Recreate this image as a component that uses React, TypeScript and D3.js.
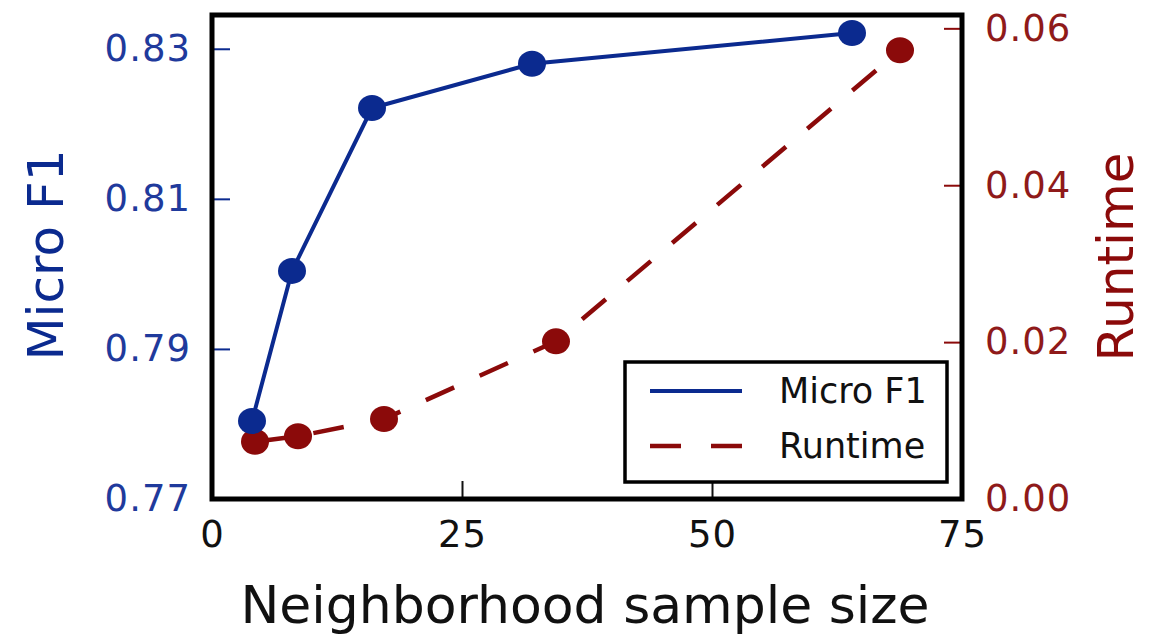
import React, { useEffect, useRef } from "react";
import * as d3 from "d3";

// values
const sampleSizes = [4, 8, 16, 32, 64];
const microF1 = [0.7804, 0.8004, 0.8221, 0.828, 0.8321];
const runtimeX = [4.3, 8.6, 17.2, 34.4, 68.8];
const runtime = [0.0073, 0.008, 0.0102, 0.0201, 0.0572];

const xTicks = [0, 25, 50, 75];
const leftTicks = [0.77, 0.79, 0.81, 0.83];
const rightTicks = [0, 0.02, 0.04, 0.06];

const BLUE = "#0b2a8f";
const RED = "#8b0a0a";
const FONT = "DejaVu Sans";

const App = () => {
  const chartRef = useRef<SVGSVGElement>(null);

  useEffect(() => {
    const width = 1166;
    const height = 635;
    const plot = { left: 212, right: 962, top: 15, bottom: 499 };

    const svg = d3
      .select(chartRef.current)
      .attr("width", width)
      .attr("height", height);
    svg.selectAll("*").remove();

    svg.append("rect").attr("width", width).attr("height", height).attr("fill", "white");

    const x = d3.scaleLinear().domain([0, 75]).range([plot.left, plot.right]);
    const yL = d3.scaleLinear().domain([0.77, 0.8345]).range([plot.bottom, plot.top]);
    const yR = d3.scaleLinear().domain([0, 0.0617]).range([plot.bottom, plot.top]);

    const styleAxis = (g, color) => {
      g.select(".domain").remove();
      g.selectAll(".tick line").attr("stroke", color).attr("stroke-width", 2);
      g.selectAll(".tick text")
        .attr("fill", color)
        .style("font-family", FONT)
        .style("font-size", "37px")
        .style("letter-spacing", "1px");
    };

    // axes, ticks pointing inward
    const xAxis = svg
      .append("g")
      .attr("transform", `translate(0,${plot.bottom})`)
      .call(d3.axisBottom(x).tickValues(xTicks).tickSize(-18).tickPadding(22).tickFormat(d3.format("d")));
    styleAxis(xAxis, "#111");

    const leftAxis = svg
      .append("g")
      .attr("transform", `translate(${plot.left},0)`)
      .call(d3.axisLeft(yL).tickValues(leftTicks).tickSize(-18).tickPadding(21).tickFormat(d3.format(".2f")));
    styleAxis(leftAxis, BLUE);
    leftAxis.selectAll(".tick text").attr("fill", "#1f3a9c");

    const rightAxis = svg
      .append("g")
      .attr("transform", `translate(${plot.right},0)`)
      .call(d3.axisRight(yR).tickValues(rightTicks).tickSize(-18).tickPadding(23).tickFormat(d3.format(".2f")));
    styleAxis(rightAxis, RED);
    rightAxis.selectAll(".tick text").attr("fill", "#8f1a1a");

    // runtime series
    const rtPoints = runtimeX.map((d, i) => ({ x: d, y: runtime[i] }));
    svg
      .append("path")
      .datum(rtPoints)
      .attr("fill", "none")
      .attr("stroke", RED)
      .attr("stroke-width", 4.5)
      .attr("stroke-dasharray", "31,28")
      .attr("d", d3.line().x((d) => x(d.x)).y((d) => yR(d.y)));
    svg
      .selectAll(".rt")
      .data(rtPoints)
      .enter()
      .append("ellipse")
      .attr("cx", (d) => x(d.x))
      .attr("cy", (d) => yR(d.y))
      .attr("rx", 14)
      .attr("ry", 13)
      .attr("fill", RED);

    // micro f1 series
    const f1Points = sampleSizes.map((d, i) => ({ x: d, y: microF1[i] }));
    svg
      .append("path")
      .datum(f1Points)
      .attr("fill", "none")
      .attr("stroke", BLUE)
      .attr("stroke-width", 4)
      .attr("d", d3.line().x((d) => x(d.x)).y((d) => yL(d.y)));
    svg
      .selectAll(".f1")
      .data(f1Points)
      .enter()
      .append("ellipse")
      .attr("cx", (d) => x(d.x))
      .attr("cy", (d) => yL(d.y))
      .attr("rx", 14)
      .attr("ry", 13)
      .attr("fill", BLUE);

    // frame
    svg
      .append("rect")
      .attr("x", plot.left)
      .attr("y", plot.top)
      .attr("width", plot.right - plot.left)
      .attr("height", plot.bottom - plot.top)
      .attr("fill", "none")
      .attr("stroke", "black")
      .attr("stroke-width", 5);

    // legend
    const legend = svg.append("g");
    legend
      .append("rect")
      .attr("x", 625)
      .attr("y", 362)
      .attr("width", 322)
      .attr("height", 120)
      .attr("fill", "white")
      .attr("stroke", "black")
      .attr("stroke-width", 3.5);
    const items = [
      { label: "Micro F1", color: BLUE, dash: null },
      { label: "Runtime", color: RED, dash: "31,30" },
    ];
    items.forEach((item, i) => {
      const cy = 391 + i * 55;
      legend
        .append("line")
        .attr("x1", 650)
        .attr("x2", 742)
        .attr("y1", cy)
        .attr("y2", cy)
        .attr("stroke", item.color)
        .attr("stroke-width", item.dash ? 4.5 : 4)
        .attr("stroke-dasharray", item.dash);
      legend
        .append("text")
        .attr("x", 779)
        .attr("y", cy + 12)
        .attr("fill", "#111")
        .style("font-family", FONT)
        .style("font-size", "35px")
        .text(item.label);
    });

    // axis labels
    svg
      .append("text")
      .attr("x", (plot.left + plot.right) / 2 - 2)
      .attr("y", 623)
      .attr("text-anchor", "middle")
      .attr("fill", "#111")
      .style("font-family", FONT)
      .style("font-size", "52px")
      .text("Neighborhood sample size");

    svg
      .append("text")
      .attr("transform", `translate(63,255) rotate(-90)`)
      .attr("text-anchor", "middle")
      .attr("fill", "#0b2a8f")
      .style("font-family", FONT)
      .style("font-size", "50px")
      .text("Micro F1");

    svg
      .append("text")
      .attr("transform", `translate(1133,257) rotate(-90)`)
      .attr("text-anchor", "middle")
      .attr("fill", RED)
      .style("font-family", FONT)
      .style("font-size", "50px")
      .text("Runtime");
  }, []);

  return (
    <div>
      <svg ref={chartRef} style={{ position: "absolute", left: 0, top: 0 }}></svg>
    </div>
  );
};

export default App;
